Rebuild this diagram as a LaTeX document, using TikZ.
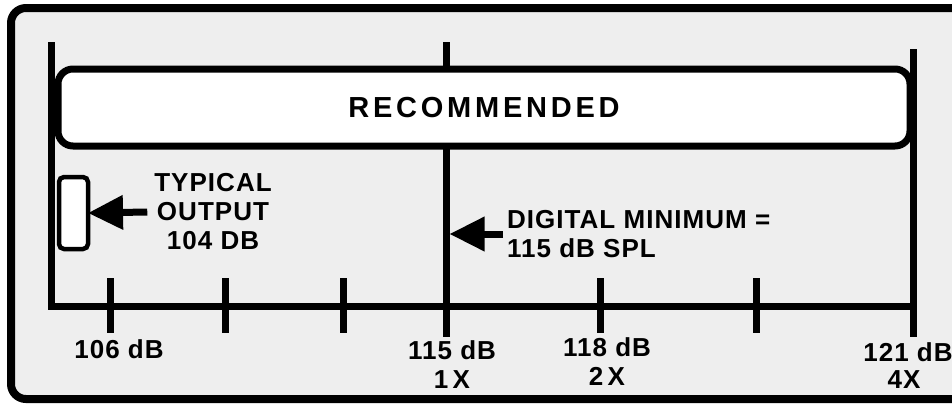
\documentclass[tikz,border=0pt]{standalone}
\usepackage{fontspec}
\usetikzlibrary{arrows.meta}
\newfontfamily\lblfont[LetterSpace=4]{Liberation Sans}
\newfontfamily\recfont[LetterSpace=13]{Liberation Sans}
\definecolor{panel}{HTML}{EEEEEE}
\begin{document}
\begin{tikzpicture}[x=1pt,y=-1pt]
    \tikzstyle{every node}=[inner sep=0pt,outer sep=0pt]
    \tikzstyle{lbl}=[font=\lblfont\bfseries\fontsize{26}{29}\selectfont,align=center]
    \tikzstyle{heavy}=[line width=7pt]
    \tikzstyle{tick}=[line width=7pt]
    \tikzstyle{pointer}=[line width=7pt,-{Triangle[length=35pt,width=33pt]}]
    \useasboundingbox (0,0) rectangle (952,405);
    \clip (0,0) rectangle (952,405);
    % frame
    \draw[line width=8pt,rounded corners=15pt,fill=panel] (11,8) rectangle (975,399);
    % scale lines
    \coordinate (ltop) at (51,42);
    \coordinate (mtop) at (446,42);
    \coordinate (mbot) at (446,337);
    \coordinate (rtop) at (913,49);
    \coordinate (rbot) at (913,337);
    \draw[heavy] (ltop) -- (51,306) -- (rbot |- 0,306);
    \draw[heavy] (mtop) -- (mbot);
    \draw[heavy] (rtop) -- (rbot);
    \foreach \x in {110,225,343,600,756}
      \draw[tick] (\x,278) -- (\x,333);
    % recommended band
    \node[draw,heavy,fill=white,rounded corners=15pt,minimum width=852pt,minimum height=77pt,
      font=\recfont\bfseries\fontsize{29}{30}\selectfont] (rec) at (484,107.5) {RECOMMENDED};
    % typical output
    \node[draw,line width=4.5pt,fill=white,rounded corners=5pt,minimum width=29pt,minimum height=72pt] (typbox) at (73.5,213) {};
    \node[lbl,inner xsep=7pt] (typlbl) at (213,212) {TYPICAL\\OUTPUT\\104 DB};
    \draw[pointer] (typlbl.west) -- (typbox.east);
    % digital minimum
    \node[lbl,align=left,anchor=west,inner xsep=4pt] (diglbl) at (503,234) {DIGITAL MINIMUM =\\115 dB SPL};
    \draw[pointer] (diglbl.west) -- ([xshift=3.5pt]diglbl.west -| mtop);
    % scale labels
    \node[lbl] (l106) at (119,349) {106 dB};
    \node[lbl] (l115) at (452,365) {115 dB\\1\,X};
    \node[lbl] (l118) at (607,362) {118 dB\\2\,X};
    \node[lbl] (l121) at (908,352) {121 dB};
    \node[lbl] (l4x) at (904,380) {4X};
\end{tikzpicture}
\end{document}
